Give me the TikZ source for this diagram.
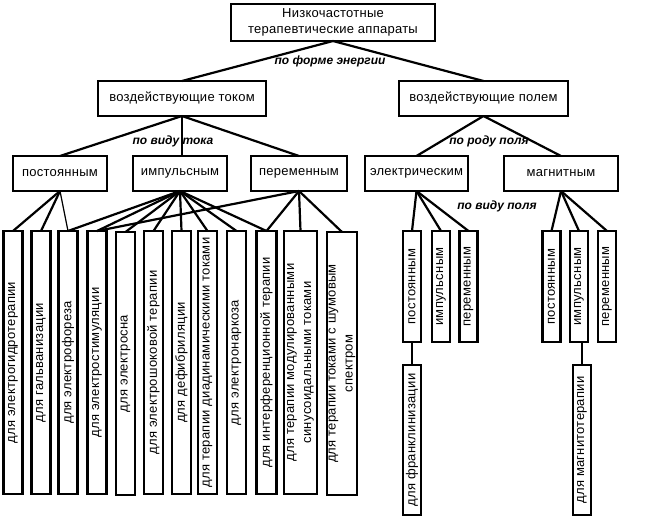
\documentclass[tikz,border=0pt]{standalone}
\usepackage{fontspec}
\setmainfont{Liberation Sans}[LetterSpace=2]
\newfontfamily\lblfont{Liberation Sans}
\begin{document}
\begin{tikzpicture}[x=1pt,y=-1pt,
  box/.style={draw, line width=2.8pt, inner sep=0pt, outer sep=0pt, fill=white, font=\fontsize{13}{16.5}\selectfont, align=center},
  vbox/.style={draw, line width=2.8pt, inner sep=0pt, outer sep=0pt, fill=white},
  vtext/.style={rotate=90, inner sep=0pt, font=\fontsize{13}{17}\selectfont, align=center},
  conn/.style={line width=2.2pt},
  thinconn/.style={line width=1.2pt},
  lbl/.style={font=\lblfont\bfseries\itshape\fontsize{12}{13}\selectfont, inner sep=0pt}]
\useasboundingbox[fill=white] (0,0) rectangle (664,517);
% top levels
\node[box, minimum width=204, minimum height=37] (top) at (333,22.5) {Низкочастотные\\терапевтические аппараты};
\node[box, minimum width=168, minimum height=35] (cur) at (182,98.5) {воздействующие током};
\node[box, minimum width=169, minimum height=35] (fld) at (483.5,98.5) {воздействующие полем};
\node[box, minimum width=94, minimum height=35] (dc) at (60,173.5) {постоянным};
\node[box, minimum width=94, minimum height=35] (pc) at (180,173.5) {импульсным};
\node[box, minimum width=96, minimum height=35] (ac) at (299,173.5) {переменным};
\node[box, minimum width=103, minimum height=35] (el) at (416.5,173.5) {электрическим};
\node[box, minimum width=114, minimum height=35] (mg) at (561,173.5) {магнитным};
% tall boxes
\node[vbox, minimum width=19, minimum height=263] (b1) at (13,362.5) {};
\node[vtext] (t1) at (b1) {для электрогидротерапии};
\node[vbox, minimum width=19, minimum height=263] (b2) at (41,362.5) {};
\node[vtext] (t2) at (b2) {для гальванизации};
\node[vbox, minimum width=19, minimum height=263] (b3) at (68,362.5) {};
\node[vtext] (t3) at (b3) {для электрофореза};
\node[vbox, minimum width=19, minimum height=263] (b4) at (97,362.5) {};
\node[vtext] (t4) at (b4) {для электростимуляции};
\node[vbox, minimum width=19, minimum height=263] (b5) at (125.5,363.5) {};
\node[vtext] (t5) at (b5) {для электросна};
\node[vbox, minimum width=19, minimum height=263] (b6) at (153.5,362.5) {};
\node[vtext] (t6) at (b6) {для электрошоковой терапии};
\node[vbox, minimum width=19, minimum height=263] (b7) at (181.5,362.5) {};
\node[vtext] (t7) at (b7) {для дефибриляции};
\node[vbox, minimum width=19, minimum height=263] (b8) at (207.5,362.5) {};
\node[vtext] (t8) at (b8) {для терапии диадинамическими токами};
\node[vbox, minimum width=19, minimum height=263] (b9) at (236.5,362.5) {};
\node[vtext] (t9) at (b9) {для электронаркоза};
\node[vbox, minimum width=20, minimum height=263] (b10) at (266.5,362.5) {};
\node[vtext] (t10) at (b10) {для интерференционной терапии};
\node[vbox, minimum width=33, minimum height=263] (b11) at (300.5,362.5) {};
\node[vtext] (t11) at (b11) {для терапии модулированными\\синусоидальными токами};
\node[vbox, minimum width=30, minimum height=263] (b12) at (342,363.5) {};
\node[vtext] (t12) at (b12) {для терапии токами с шумовым\\спектром};
% field boxes
\node[vbox, minimum width=18, minimum height=111] (ep) at (412,286.5) {};
\node[vtext] (tep) at (ep) {постоянным};
\node[vbox, minimum width=18, minimum height=111] (ei) at (441,286.5) {};
\node[vtext] (tei) at (ei) {импульсным};
\node[vbox, minimum width=18, minimum height=111] (ea) at (468.5,286.5) {};
\node[vtext] (tea) at (ea) {переменным};
\node[vbox, minimum width=18, minimum height=111] (mp) at (551.5,286.5) {};
\node[vtext] (tmp) at (mp) {постоянным};
\node[vbox, minimum width=18, minimum height=111] (mi) at (579,286.5) {};
\node[vtext] (tmi) at (mi) {импульсным};
\node[vbox, minimum width=18, minimum height=111] (ma) at (607,286.5) {};
\node[vtext] (tma) at (ma) {переменным};
\node[vbox, minimum width=18, minimum height=150] (fr) at (412,440) {};
\node[vtext] (tfr) at (fr) {для франклинизации};
\node[vbox, minimum width=18, minimum height=150] (mt) at (582,440) {};
\node[vtext] (tmt) at (mt) {для магнитотерапии};
% labels
\node[lbl] (l1) at (330,61) {по форме энергии};
\node[lbl] (l2) at (173,141) {по виду тока};
\node[lbl] (l3) at (489,141) {по роду поля};
\node[lbl] (l4) at (497,206) {по виду поля};
% connectors
\draw[conn] (top.south) -- (cur.north);
\draw[conn] (top.south) -- (fld.north);
\draw[conn] (cur.south) -- (dc.north);
\draw[conn] (cur.south) -- (cur.south |- pc.north);
\draw[conn] (cur.south) -- (ac.north);
\draw[conn] (fld.south) -- (el.north);
\draw[conn] (fld.south) -- (mg.north);
\draw[conn] (dc.south) -- (b1.north);
\draw[conn] (dc.south) -- (b2.north);
\draw[thinconn] (dc.south) -- (b3.north);
\foreach \b in {b3,b4,b5,b6,b7,b8,b9,b10}
  \draw[conn] (pc.south) -- (\b.north);
\foreach \b in {b4,b10,b11,b12}
  \draw[conn] (ac.south) -- (\b.north);
\foreach \b in {ep,ei,ea}
  \draw[conn] (el.south) -- (\b.north);
\foreach \b in {mp,mi,ma}
  \draw[conn] (mg.south) -- (\b.north);
\draw[conn] (ep.south) -- (fr.north);
\draw[conn] (mt.north) -- (mt.north |- mi.south);
\end{tikzpicture}
\end{document}
